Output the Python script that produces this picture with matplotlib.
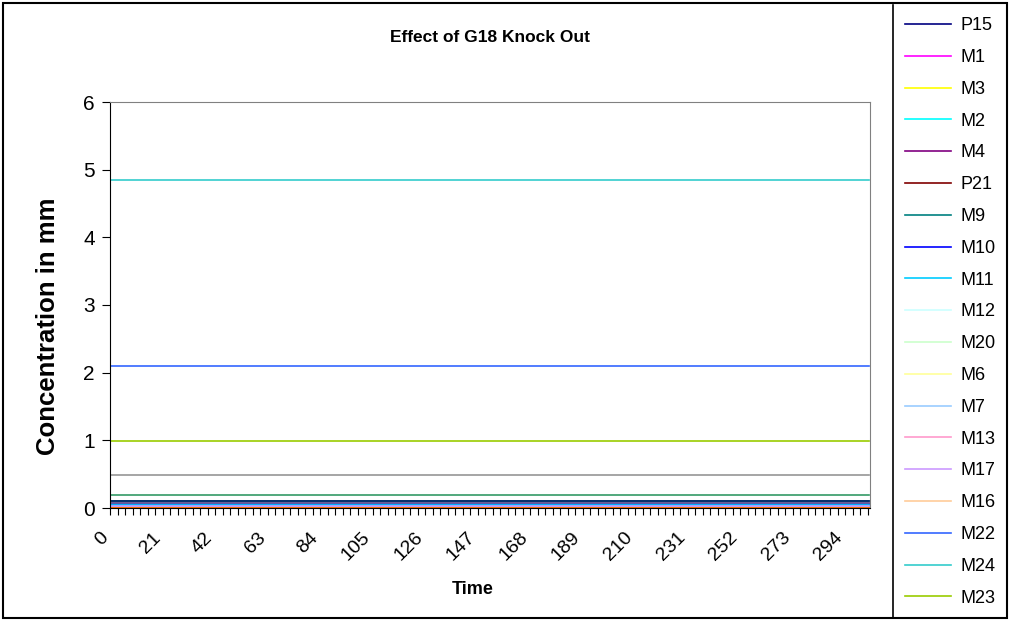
import numpy as np
import matplotlib
matplotlib.use("Agg")
from matplotlib import pyplot as plt
from matplotlib.lines import Line2D
from matplotlib.patches import Rectangle
from matplotlib.transforms import ScaledTranslation

plt.rcParams['font.family'] = ['Liberation Sans', 'DejaVu Sans']

# time points (category axis), labelled every 21
time = np.arange(0, 304)
tick_pos = list(range(0, 295, 21))
tick_labels = [str(t) for t in tick_pos]

# steady concentration of each species (mm)
names = ['P15', 'M1', 'M3', 'M2', 'M4', 'P21', 'M9', 'M10', 'M11', 'M12',
         'M20', 'M6', 'M7', 'M13', 'M17', 'M16', 'M22', 'M24', 'M23',
         'S20', 'S21', 'S22', 'S23', 'S24', 'S25', 'S26']
levels = [0.10, 0.01, 0.0, 0.05, 0.07, 0.02, 0.03, 0.06, 0.045, 0.0,
          0.0, 0.0, 0.02, 0.005, 0.03, 0.0, 2.10, 4.84, 0.99,
          0.0, 0.0, 0.0, 0.08, 0.49, 0.10, 0.185]
colors = ['#000080', '#FF00FF', '#FFFF00', '#00FFFF', '#800080', '#800000',
          '#008080', '#0000FF', '#00CCFF', '#CCFFFF', '#CCFFCC', '#FFFF99',
          '#99CCFF', '#FF99CC', '#CC99FF', '#FFCC99', '#3366FF', '#33CCCC',
          '#99CC00', '#FFCC00', '#FF9900', '#FF6600', '#666699', '#969696',
          '#003366', '#339966']
n_legend = 19

fig = plt.figure(figsize=(10.1, 6.21), dpi=100)
ax = fig.add_axes([110/1010, 1-508/621, 760/1010, 406/621])

handles = []
for name, lev, c in zip(names, levels, colors):
    h, = ax.plot(time, np.full(len(time), lev), color=c, lw=1.2,
                 label=name)
    handles.append(h)

ax.set_xlim(-0.5, 303.5)
ax.set_ylim(0, 6)
ax.set_yticks(range(0, 7))
ax.tick_params(axis='y', labelsize=15, length=6, direction='out', pad=5)

# category labels every 21 points, rotated like the spreadsheet chart
ax.set_xticks([])
off = ScaledTranslation(-12/100, -21/100, fig.dpi_scale_trans)
for p, s in zip(tick_pos, tick_labels):
    ax.text(p, 0, s, transform=ax.get_xaxis_transform() + off,
            rotation=45, rotation_mode='anchor', ha='right', va='top',
            fontsize=14)
ax.set_xticks(np.arange(-0.5, 304, 3), minor=True)
ax.tick_params(axis='x', which='minor', length=5, width=0.8)

for s in ['top', 'right']:
    ax.spines[s].set_color('#808080')
for s in ['left', 'bottom']:
    ax.spines[s].set_color('black')

ax.set_xlabel('Time', fontsize=13, fontweight='bold')
ax.xaxis.set_label_coords((473-110)/760, -(590-508)/406)
ax.xaxis.label.set_va('center')
ax.set_ylabel('Concentration in mm', fontsize=18.5, fontweight='bold')
ax.yaxis.set_label_coords(-(110-48)/760, (508-326)/406)
ax.yaxis.label.set_va('center')
fig.text(490/1010, 1-38/621, 'Effect of G18 Knock Out', ha='center',
         va='center', fontsize=12.5, fontweight='bold')

# chart border and legend box
fig.patches.append(Rectangle((3/1010, 3/621), 1004/1010, 615/621,
                             transform=fig.transFigure, fill=False,
                             edgecolor='black', lw=1.5))
fig.lines.append(Line2D([893/1010, 893/1010], [3/621, 1-5/621],
                        transform=fig.transFigure, color='black', lw=1.2))

fig.legend(handles=handles[:n_legend], loc='upper left',
           bbox_to_anchor=(898/1010, 1-10/621), frameon=False,
           fontsize=13, handlelength=2.55, labelspacing=0.82,
           handletextpad=0.5, borderaxespad=0)

fig.savefig('out.png', dpi=100)
